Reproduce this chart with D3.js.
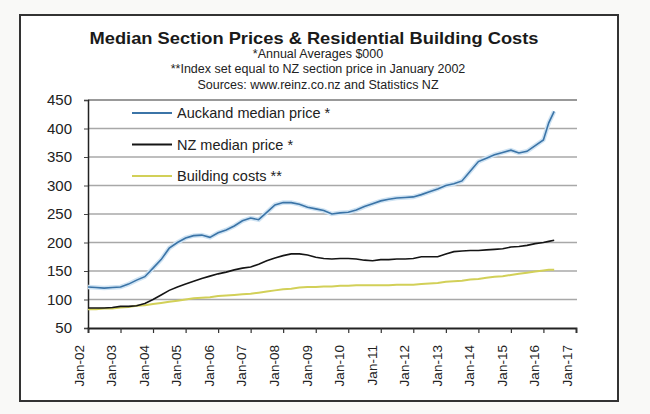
<!DOCTYPE html>
<html>
<head>
<meta charset="utf-8">
<script src="https://cdn.jsdelivr.net/npm/d3@7"></script>
<style>
  body { margin: 0; background: #f9f9f7; }
  svg { display: block; font-family: "Liberation Sans", Arial, sans-serif; }
</style>
</head>
<body>
<svg id="chart" width="650" height="414"></svg>
<script>
// quarterly readings, Jan-02 .. May-16
const dates = [
  '2002-01','2002-04','2002-07','2002-10',
  '2003-01','2003-04','2003-07','2003-10',
  '2004-01','2004-04','2004-07','2004-10',
  '2005-01','2005-04','2005-07','2005-10',
  '2006-01','2006-04','2006-07','2006-10',
  '2007-01','2007-04','2007-07','2007-10',
  '2008-01','2008-04','2008-07','2008-10',
  '2009-01','2009-04','2009-07','2009-10',
  '2010-01','2010-04','2010-07','2010-10',
  '2011-01','2011-04','2011-07','2011-10',
  '2012-01','2012-04','2012-07','2012-10',
  '2013-01','2013-04','2013-07','2013-10',
  '2014-01','2014-04','2014-07','2014-10',
  '2015-01','2015-04','2015-07','2015-10',
  '2016-01','2016-03','2016-05'
];
const auckland = [
  122,121,120,121, 122,127,134,140, 155,170,190,200, 208,212,213,209,
  217,222,229,238, 243,240,253,266, 270,270,267,262, 259,256,250,252,
  253,257,263,268, 273,276,278,279, 280,284,289,294, 300,303,308,325,
  342,348,354,358, 362,357,360,370, 380,410,430
];
const nzMedian = [
  85,85,85,86, 88,88,89,93, 100,108,116,122, 127,132,137,141,
  145,148,152,155, 157,162,168,173, 177,180,180,178, 174,172,171,172,
  172,171,169,168, 170,170,171,171, 172,175,175,175, 180,184,185,186,
  186,187,188,189, 192,193,195,198, 200,202,204
];
const buildingCosts = [
  83,83,84,84, 86,87,89,90, 92,94,96,98, 100,102,103,104,
  106,107,108,109, 110,112,114,116, 118,119,121,122, 122,123,123,124,
  124,125,125,125, 125,125,126,126, 126,127,128,129, 131,132,133,135,
  136,138,140,141, 143,145,147,149, 151,152,152
];
const seriesNames = ['Auckand median price *', 'NZ median price *', 'Building costs **'];
const seriesColors = ['#3b74a7', '#151515', '#d2d058'];
const yTicks = [50, 100, 150, 200, 250, 300, 350, 400, 450];
const titleText = 'Median Section Prices & Residential Building Costs';
const subtitles = [
  '*Annual Averages $000',
  '**Index set equal to NZ section price in January 2002',
  'Sources: www.reinz.co.nz and Statistics NZ'
];

const svg = d3.select('#chart');
const parse = d3.timeParse('%Y-%m');

// frame
svg.append('rect')
  .attr('x', 20).attr('y', 15).attr('width', 598).attr('height', 386)
  .attr('fill', '#fff').attr('stroke', '#333').attr('stroke-width', 2);

// titles
svg.append('text')
  .attr('x', 314).attr('y', 44)
  .attr('text-anchor', 'middle')
  .attr('font-size', 16.5).attr('font-weight', 'bold').attr('fill', '#1a1a1a')
  .attr('textLength', 449).attr('lengthAdjust', 'spacingAndGlyphs')
  .text(titleText);
svg.selectAll('.sub')
  .data(subtitles)
  .join('text')
  .attr('class', 'sub')
  .attr('x', 318).attr('y', (d, i) => 57.5 + i * 15.8)
  .attr('text-anchor', 'middle')
  .attr('font-size', 12.5).attr('fill', '#222')
  .text(d => d);

const x = d3.scaleTime()
  .domain([new Date(2002, 0, 1), new Date(2017, 0, 1)])
  .range([88, 576]);
const y = d3.scaleLinear().domain([50, 450]).range([328, 100]);

// gridlines
svg.append('g')
  .selectAll('line')
  .data(yTicks.filter(t => t > 50))
  .join('line')
  .attr('x1', 88).attr('x2', 577)
  .attr('y1', d => y(d)).attr('y2', d => y(d))
  .attr('stroke', d => d === 450 ? '#777' : '#a8a8a8')
  .attr('stroke-width', 1.3);

// y axis
const yAxis = svg.append('g')
  .attr('transform', 'translate(88,0)')
  .call(d3.axisLeft(y).tickValues(yTicks).tickSize(4).tickPadding(12));
yAxis.select('.domain').attr('stroke', '#222').attr('stroke-width', 1.5);
yAxis.selectAll('.tick line').attr('stroke', '#444');
yAxis.selectAll('text')
  .attr('font-size', 15).attr('fill', '#222')
  .attr('font-family', '"Liberation Sans", Arial, sans-serif');

// x axis
const xAxis = svg.append('g')
  .attr('transform', `translate(0,${y(50)})`)
  .call(d3.axisBottom(x)
    .ticks(d3.timeYear.every(1))
    .tickFormat(d3.timeFormat('Jan-%y'))
    .tickSize(5).tickPadding(5));
xAxis.select('.domain').attr('stroke', '#222').attr('stroke-width', 1.8);
xAxis.selectAll('.tick line').attr('stroke', '#333').attr('stroke-width', 1.2);
xAxis.selectAll('text')
  .attr('font-size', 13.5).attr('fill', '#222')
  .attr('font-family', '"Liberation Sans", Arial, sans-serif')
  .attr('text-anchor', 'end')
  .attr('dx', '-0.6em').attr('dy', '-0.35em')
  .attr('transform', 'rotate(-90)')
  .attr('x', -9).attr('y', 0);

// lines
const line = d3.line()
  .x((d, i) => x(parse(dates[i])))
  .y(d => y(d));

svg.append('path')
  .attr('d', line(auckland))
  .attr('fill', 'none').attr('stroke', '#cfe3f3').attr('stroke-width', 4.5);
svg.append('path')
  .attr('d', line(buildingCosts))
  .attr('fill', 'none').attr('stroke', seriesColors[2]).attr('stroke-width', 2);
svg.append('path')
  .attr('d', line(nzMedian))
  .attr('fill', 'none').attr('stroke', seriesColors[1]).attr('stroke-width', 1.6);
svg.append('path')
  .attr('d', line(auckland))
  .attr('fill', 'none').attr('stroke', seriesColors[0]).attr('stroke-width', 1.6);

// legend
const legend = svg.append('g')
  .selectAll('g')
  .data(seriesNames)
  .join('g')
  .attr('transform', (d, i) => `translate(132,${113 + i * 31.5})`);
legend.append('line')
  .attr('x1', 0).attr('x2', 40)
  .attr('stroke', (d, i) => seriesColors[i])
  .attr('stroke-width', (d, i) => i === 2 ? 2 : 1.8);
legend.append('text')
  .attr('x', 45).attr('dy', '0.35em')
  .attr('font-size', 14.5).attr('fill', '#222')
  .text(d => d);
</script>
</body>
</html>
